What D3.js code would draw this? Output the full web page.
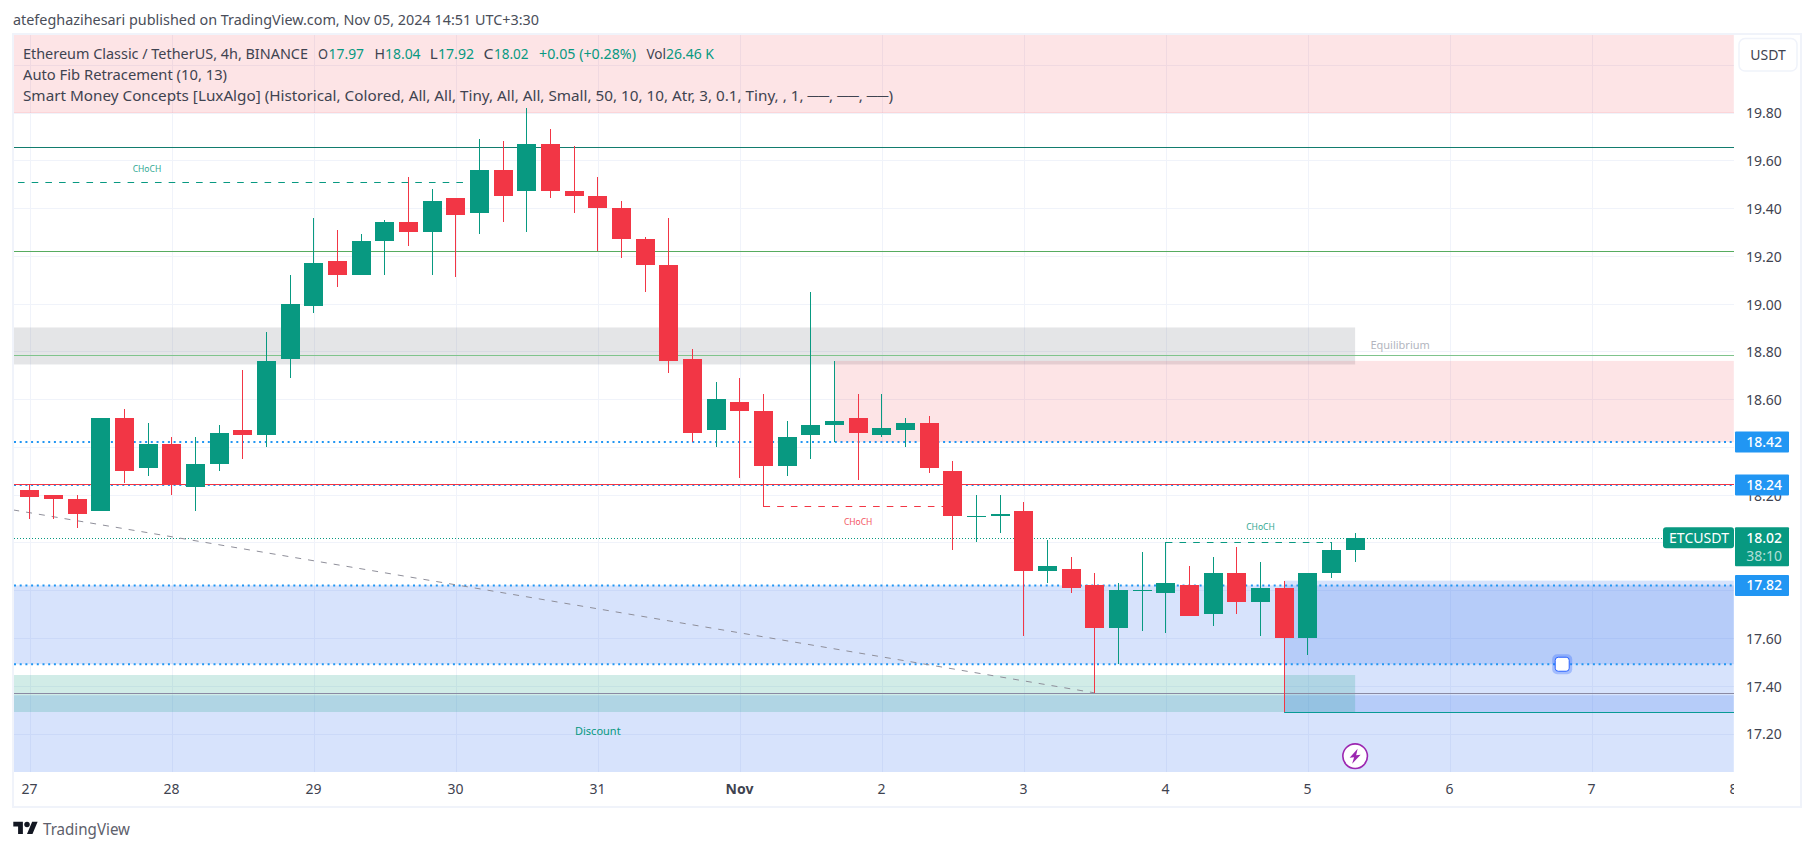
<!DOCTYPE html>
<html><head><meta charset="utf-8">
<script src="https://cdnjs.cloudflare.com/ajax/libs/d3/7.8.5/d3.min.js"></script>
<style>html,body{margin:0;padding:0;background:#fff}svg{display:block}text{font-family:"Noto Sans",sans-serif}</style>
</head><body><svg id="c" width="1814" height="851"></svg>
<script>
// ---- data ----
const opens  = [18.22,18.20,18.18,18.13,18.52,18.31,18.41,18.23,18.33,18.47,18.45,18.77,18.99,19.18,19.12,19.26,19.34,19.30,19.44,19.38,19.56,19.47,19.67,19.47,19.45,19.40,19.27,19.16,18.77,18.47,18.59,18.55,18.32,18.45,18.49,18.52,18.45,18.47,18.50,18.30,18.11,18.11,18.13,17.88,17.89,17.82,17.64,17.80,17.79,17.82,17.70,17.87,17.75,17.81,17.60,17.87,17.97];
const highs  = [18.24,18.20,18.20,18.52,18.56,18.50,18.44,18.44,18.49,18.72,18.88,19.12,19.36,19.31,19.29,19.35,19.53,19.48,19.44,19.69,19.68,19.82,19.73,19.66,19.53,19.43,19.28,19.36,18.81,18.67,18.69,18.62,18.51,19.05,18.76,18.62,18.62,18.52,18.53,18.34,18.20,18.20,18.17,18.01,17.94,17.87,17.83,17.96,18.00,17.90,17.94,17.98,17.92,17.84,17.87,18.00,18.04];
const lows   = [18.10,18.10,18.06,18.13,18.25,18.28,18.20,18.13,18.30,18.35,18.40,18.69,18.96,19.07,19.12,19.12,19.24,19.12,19.11,19.29,19.34,19.30,19.44,19.38,19.22,19.19,19.05,18.71,18.42,18.40,18.27,18.15,18.28,18.35,18.42,18.26,18.44,18.40,18.29,17.97,18.00,18.04,17.61,17.83,17.79,17.37,17.49,17.63,17.62,17.69,17.65,17.70,17.61,17.29,17.53,17.85,17.92];
const closes = [18.19,18.18,18.12,18.52,18.30,18.41,18.24,18.33,18.46,18.45,18.76,19.00,19.17,19.12,19.26,19.34,19.30,19.43,19.37,19.56,19.45,19.67,19.47,19.45,19.40,19.27,19.16,18.76,18.46,18.60,18.55,18.32,18.44,18.49,18.51,18.46,18.48,18.50,18.31,18.11,18.11,18.12,17.88,17.90,17.81,17.64,17.80,17.80,17.83,17.69,17.87,17.75,17.81,17.60,17.87,17.97,18.02];

const yTicks = [17.2,17.4,17.6,18.2,18.6,18.8,19.0,19.2,19.4,19.6,19.8];
const yGrid  = [17.2,17.4,17.6,17.8,18.0,18.2,18.4,18.6,18.8,19.0,19.2,19.4,19.6,19.8,20.0];
const dayIndex  = [0,6,12,18,24,30,36,42,48,54,60,66,72];
const dayLabels = ['27','28','29','30','31','Nov','2','3','4','5','6','7','8'];

const solidLevels  = [19.655,19.22,18.785,18.245,17.37];
const solidColors  = ['#127c6e','#56ab5f','#7fc48c','#f23645','#8a8aa3'];
const dottedLevels = [18.42,18.24,17.82,17.49];
const tagValues    = ['18.42','18.24','17.82'];
const lastPrice = 18.02;
const countdown = '38:10';
const symbol = 'ETCUSDT';
const currency = 'USDT';

const zoneTop    = [20.30,18.90,18.76,17.82,17.36,17.84,17.445];
const zoneBottom = [19.80,18.745,18.42,17.49,16.90,17.29,17.29];
const zoneStart  = [-1,-1,34,-1,-1,53,-1];
const zoneEnd    = [72,56,72,72,72,72,56];
const zoneFill   = ['rgba(242,54,69,.135)','rgba(120,123,134,.2)','rgba(242,54,69,.135)','rgba(41,108,239,.19)','rgba(41,108,239,.19)','rgba(41,108,239,.19)','rgba(8,153,129,.19)'];

const chochStart = [-0.5,31,48];
const chochEnd   = [18.7,39,55];
const chochPrice = [19.51,18.151,18.00];
const chochColor = ['#089981','#f23645','#089981'];
const chochLabelAt = [4.95,35,52];
const chochLabelPrice = [19.563,18.0855,18.0645];
const zoneWords = ['Equilibrium','Discount'];
const zoneWordAt = [57.9,24];
const zoneWordPrice = [18.825,17.21];
const zoneWordColor = ['#b2b5be','#089981'];
const trendIndex = [-0.7,45];
const trendPrice = [18.136,17.37];
const legendRows = ['Ethereum Classic / TetherUS, 4h, BINANCE','Auto Fib Retracement (10, 13)','Smart Money Concepts [LuxAlgo] (Historical, Colored, All, All, Tiny, All, All, Small, 50, 10, 10, Atr, 3, 0.1, Tiny, , 1, ──, ──, ──)'];
const legendNames  = ['O','H','L','C','','Vol'];
const legendValues = ['17.97','18.04','17.92','18.02','+0.05 (+0.28%)','26.46 K'];
const headerText = 'atefeghazihesari published on TradingView.com, Nov 05, 2024 14:51 UTC+3:30';

// ---- layout ----
const paneL=14, paneR=1734, paneT=35, paneB=772, axisR=1801, frameB=807;
const up='#089981', down='#f23645', ink='#3f4350', gridC='#f0f3fa';
const x = d3.scaleLinear().domain([0,72]).range([29.8,1733.8]);
const y = d3.scaleLinear().domain([17.2,19.8]).range([733.5,112.5]);
const svg = d3.select('#c');
const crisp = v => Math.round(v)+0.5;

svg.append('defs').append('clipPath').attr('id','pane').append('rect')
  .attr('x',paneL).attr('y',paneT).attr('width',paneR-paneL).attr('height',paneB-paneT);
svg.append('defs').append('clipPath').attr('id','timeClip').append('rect')
  .attr('x',paneL).attr('y',paneB).attr('width',paneR-paneL).attr('height',frameB-paneB);

function fit(sel,width){return sel.attr('textLength',width).attr('lengthAdjust','spacingAndGlyphs');}

// header
fit(svg.append('text').attr('x',13).attr('y',25).attr('font-size',14).attr('fill','#4a4e59').text(headerText),526);

// frame
svg.append('rect').attr('x',13).attr('y',34).attr('width',axisR-13).attr('height',frameB-34)
  .attr('fill','#fff').attr('stroke',gridC).attr('stroke-width',2);

const pane = svg.append('g').attr('clip-path','url(#pane)');

// grid
pane.selectAll('.hg').data(yGrid).join('line').attr('x1',paneL).attr('x2',paneR)
  .attr('y1',d=>crisp(y(d))).attr('y2',d=>crisp(y(d))).attr('stroke',gridC);
pane.selectAll('.vg').data(dayIndex).join('line').attr('y1',paneT).attr('y2',paneB)
  .attr('x1',d=>crisp(x(d))).attr('x2',d=>crisp(x(d))).attr('stroke',gridC);

// zones
pane.selectAll('.zone').data(d3.range(zoneTop.length)).join('rect')
  .attr('x',k=>zoneStart[k]<0?paneL:x(zoneStart[k]))
  .attr('width',k=>x(zoneEnd[k])-(zoneStart[k]<0?paneL:x(zoneStart[k])))
  .attr('y',k=>y(zoneTop[k])).attr('height',k=>y(zoneBottom[k])-y(zoneTop[k]))
  .attr('fill',k=>zoneFill[k]);
pane.append('line').attr('x1',paneL).attr('x2',paneR).attr('y1',y(19.8)).attr('y2',y(19.8))
  .attr('stroke','rgba(242,54,69,.15)');

// dotted horizontal tags
pane.selectAll('.dot').data(dottedLevels).join('line').attr('x1',paneL).attr('x2',paneR)
  .attr('y1',d=>y(d)).attr('y2',d=>y(d)).attr('stroke','#2196f3').attr('stroke-width',2).attr('stroke-dasharray','2 3.7');
// last price line
pane.append('line').attr('x1',paneL).attr('x2',paneR).attr('y1',crisp(y(lastPrice))).attr('y2',crisp(y(lastPrice)))
  .attr('stroke',up).attr('stroke-dasharray','1 2');
// solid levels
pane.selectAll('.lvl').data(d3.range(solidLevels.length)).join('line').attr('x1',paneL).attr('x2',paneR)
  .attr('y1',k=>crisp(y(solidLevels[k]))).attr('y2',k=>crisp(y(solidLevels[k]))).attr('stroke',k=>solidColors[k]).attr('stroke-width',1);
// teal low line
pane.append('line').attr('x1',x(53)).attr('x2',paneR).attr('y1',crisp(y(17.29))).attr('y2',crisp(y(17.29))).attr('stroke','#089a95').attr('stroke-width',1);

// trend
pane.append('line').attr('x1',x(trendIndex[0])).attr('x2',x(trendIndex[1])).attr('y1',y(trendPrice[0])).attr('y2',y(trendPrice[1]))
  .attr('stroke','#8f8f9a').attr('stroke-dasharray','6 7');

// CHoCH
pane.selectAll('.choch').data(d3.range(chochStart.length)).join('line')
  .attr('x1',k=>x(chochStart[k])).attr('x2',k=>x(chochEnd[k]))
  .attr('y1',k=>crisp(y(chochPrice[k]))).attr('y2',k=>crisp(y(chochPrice[k])))
  .attr('stroke',k=>chochColor[k]).attr('stroke-dasharray','6.6 7.1');
pane.selectAll('.chochT').data(d3.range(chochStart.length)).join('text')
  .attr('x',k=>x(chochLabelAt[k])).attr('y',k=>y(chochLabelPrice[k])+3).attr('text-anchor','middle')
  .attr('font-size',8.5).attr('fill',k=>chochColor[k]).attr('opacity',.85).text('CHoCH');
pane.selectAll('.zw').data(zoneWords).join('text')
  .attr('x',(d,k)=>x(zoneWordAt[k])).attr('y',(d,k)=>y(zoneWordPrice[k])+3.5).attr('text-anchor','middle')
  .attr('font-size',11).attr('fill',(d,k)=>zoneWordColor[k]).text(d=>d);

// candles
const candles = d3.range(opens.length);
pane.selectAll('.wick').data(candles).join('line')
  .attr('x1',i=>crisp(x(i)-0.5)).attr('x2',i=>crisp(x(i)-0.5))
  .attr('y1',i=>Math.round(y(highs[i]))).attr('y2',i=>Math.round(y(lows[i])))
  .attr('stroke',i=>closes[i]>=opens[i]?up:down);
pane.selectAll('.body').data(candles).join('rect')
  .attr('x',i=>Math.round(x(i)-0.5)-9)
  .attr('width',19)
  .attr('y',i=>Math.round(y(Math.max(opens[i],closes[i]))))
  .attr('height',i=>Math.max(1,Math.round(y(Math.min(opens[i],closes[i])))-Math.round(y(Math.max(opens[i],closes[i])))))
  .attr('fill',i=>closes[i]>=opens[i]?up:down);

// lightning marker
const bolt = pane.append('g').attr('transform','translate('+x(56)+','+(y(17.105))+')');
bolt.append('circle').attr('r',12.3).attr('fill','#fff').attr('stroke','#9c27b0').attr('stroke-width',1.6);
bolt.append('path').attr('d','M2.5-7.5 L-5.5 1.5 L-1 1 L-3 7.5 L5.5-1.5 L1-1 Z').attr('fill','#9c27b0');

// drag handle
const hx=x(64.75), hy=y(17.49);
pane.append('rect').attr('x',hx-10).attr('y',hy-10).attr('width',20).attr('height',20).attr('rx',5).attr('fill','rgba(41,98,255,.3)');
pane.append('rect').attr('x',hx-7).attr('y',hy-7).attr('width',14).attr('height',14).attr('rx',3).attr('fill','#fff').attr('stroke','#2962ff');

// legend
const rowY=[59,80,101], rowW=[285,204,870];
legendRows.forEach((t,k)=>{
  fit(svg.append('text').attr('x',23).attr('y',rowY[k]).attr('font-size',14).attr('fill',ink).text(t),rowW[k]);
});
const nameX=[318,374.4,429.8,483.6,539,646.4], nameW=[10,10.5,8,10,0,19.6];
const valX=[328.6,385,438,494,539,666], valW=[35.4,35.6,36,34.6,97,48];
legendValues.forEach((v,k)=>{
  if(legendNames[k]) fit(svg.append('text').attr('x',nameX[k]).attr('y',rowY[0]).attr('font-size',14).attr('fill',ink).text(legendNames[k]),nameW[k]);
  fit(svg.append('text').attr('x',valX[k]).attr('y',rowY[0]).attr('font-size',14).attr('fill',up).text(v),valW[k]);
});

// price axis
const yAxis = d3.axisRight(y).tickValues(yTicks).tickSize(0).tickPadding(0).tickFormat(d3.format('.2f'));
const gy = svg.append('g').attr('transform','translate(1746,1)').call(yAxis);
gy.select('.domain').remove();
gy.selectAll('text').attr('font-size',14).attr('fill',ink).attr('font-family','"Noto Sans",sans-serif');

// time axis
const xAxis = d3.axisBottom(d3.scaleLinear().domain(x.domain()).range(x.range().map(v=>v-0.8)))
  .tickValues(dayIndex).tickSize(0).tickPadding(0).tickFormat((d,k)=>dayLabels[k]);
const gx = svg.append('g').attr('clip-path','url(#timeClip)').append('g').attr('transform','translate(0,'+(paneB+12)+')').call(xAxis);
gx.select('.domain').remove();
gx.selectAll('text').attr('font-size',14).attr('fill',ink).attr('font-family','"Noto Sans",sans-serif')
  .attr('font-weight',(d,k)=>dayLabels[k]==='Nov'?700:400);

// price tags
const tagL=1735, tagW=54, tagH=21;
svg.selectAll('.tag').data(tagValues).join('rect').attr('x',tagL).attr('width',tagW)
  .attr('y',d=>y(+d)-tagH/2).attr('height',tagH).attr('rx',1).attr('fill','#2196f3');
svg.selectAll('.tagT').data(tagValues).join('text').attr('x',1782).attr('y',d=>y(+d)+5).attr('text-anchor','end')
  .attr('font-size',14).attr('font-weight',500).attr('fill','#fff').text(d=>d);
const ly=y(lastPrice);
svg.append('rect').attr('x',tagL).attr('y',ly-10.5).attr('width',tagW).attr('height',39).attr('rx',1).attr('fill',up);
svg.append('text').attr('x',1782).attr('y',ly+5).attr('text-anchor','end').attr('font-size',14).attr('font-weight',500).attr('fill','#fff').text(d3.format('.2f')(lastPrice));
svg.append('text').attr('x',1782).attr('y',ly+23).attr('text-anchor','end').attr('font-size',14).attr('fill','rgba(255,255,255,.7)').text(countdown);
svg.append('rect').attr('x',1663).attr('y',ly-10.5).attr('width',71).attr('height',21).attr('rx',3).attr('fill',up);
fit(svg.append('text').attr('x',1669).attr('y',ly+5).attr('font-size',14).attr('fill','#fff').text(symbol),60);

// currency button
svg.append('rect').attr('x',1739).attr('y',38.5).attr('width',58).attr('height',32.5).attr('rx',6).attr('fill','#fff').attr('stroke',gridC).attr('stroke-width',1.5);
svg.append('text').attr('x',1768).attr('y',60).attr('text-anchor','middle').attr('font-size',14).attr('fill',ink).text(currency);

// footer logo
const logo = svg.append('g').attr('transform','translate(13.3,819) scale(.685)').attr('fill','#131722');
logo.append('path').attr('d','M14 22H7V11H0V4h14v18zM28 22h-8l7.5-18h8L28 22z');
logo.append('circle').attr('cx',20).attr('cy',8).attr('r',4);
fit(svg.append('text').attr('x',43).attr('y',835).attr('font-size',16).attr('fill','#5d606b').text('TradingView'),87);
</script></body></html>
